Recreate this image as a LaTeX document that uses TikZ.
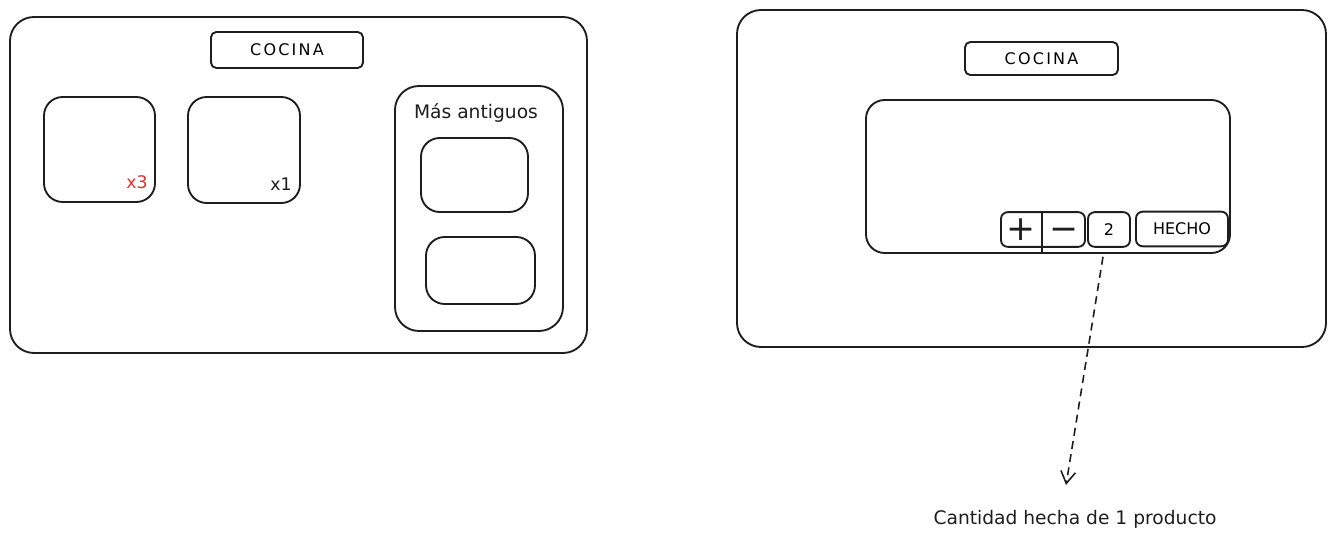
\documentclass[tikz,border=0pt]{standalone}
\usepackage{fontspec}
\setmainfont{DejaVu Sans}
\usepackage{tikz}
\usetikzlibrary{arrows.meta,positioning,calc}
\usepackage{xcolor}
\definecolor{Ink}{HTML}{1E1E1E}
\definecolor{Alert}{HTML}{E03131}
\tikzset{
 frame/.style={draw=Ink, line width=1.4pt, rounded corners=18pt, inner sep=0pt},
 card/.style={draw=Ink, line width=1.4pt, rounded corners=14pt, inner sep=0pt},
 tag/.style={draw=Ink, line width=1.4pt, rounded corners=4pt, inner sep=0pt, font=\fontsize{12}{14}\selectfont\addfontfeature{LetterSpace=14}},
 btn/.style={draw=Ink, line width=1.4pt, rounded corners=5pt, inner sep=0pt, minimum height=26pt, font=\fontsize{12}{14}\selectfont},
 label/.style={text=Ink, inner sep=1pt, font=\fontsize{14}{16}\selectfont},
 sign/.style={text=Ink, inner sep=0pt, font=\fontsize{26}{26}\selectfont},
 arrow/.style={-{Straight Barb[length=9pt,width=11pt]}, dash pattern=on 6pt off 4pt, draw=Ink, line width=1.2pt}
}
\begin{document}
\begin{tikzpicture}[x=0.75pt,y=-0.75pt]
\useasboundingbox (0,0) rectangle (1336,541);
% left screen
\node[frame, minimum width=432.75pt, minimum height=252pt] (leftscreen) at (298.5,185) {};
\node[tag, minimum width=114pt, minimum height=27pt] (cocinaL) at (287,50) {COCINA};
\node[card, minimum width=83.25pt, minimum height=78.75pt] (orderA) at (99.5,149.5) {};
\node[card, minimum width=84pt, minimum height=79.5pt] (orderB) at (244,150) {};
\node[label, text=Alert, font=\fontsize{13}{15}\selectfont] (qtyA) at (137,182) {x3};
\node[label, font=\fontsize{13}{15}\selectfont] (qtyB) at (281,184) {x1};
\node[frame, minimum width=126pt, minimum height=183.75pt] (oldest) at (479,208.5) {};
\node[label] (oldestTitle) at (476,113) {Más antiguos};
\node[card, minimum width=80.25pt, minimum height=55.5pt] (oldA) at (474.5,175) {};
\node[card, minimum width=81.75pt, minimum height=50.25pt] (oldB) at (480.5,270.5) {};
% right screen
\node[frame, minimum width=441.75pt, minimum height=252.75pt] (rightscreen) at (1031.5,178.5) {};
\node[tag, minimum width=114.75pt, minimum height=24.75pt] (cocinaR) at (1041.5,58.5) {COCINA};
\node[card, minimum width=273pt, minimum height=114.75pt] (detail) at (1048,176.5) {};
\node[btn, minimum width=63pt] (stepper) at (1043,229.5) {};
\node[sign] (plus) at (1021,230) {+};
\node[sign] (minus) at (1064,234) {−};
\coordinate (divtop) at (1042,212);
\coordinate (divbot) at (1042,253);
\draw[draw=Ink, line width=1.4pt] (divtop) -- (divbot);
\node[btn, minimum width=31.5pt] (two) at (1109,229.5) {2};
\node[btn, minimum width=69pt] (done) at (1182,229) {HECHO};
% note
\node[label] (note) at (1075,519) {Cantidad hecha de 1 producto};
\coordinate (tip) at (1066,485);
\draw[arrow] ([xshift=-4.5pt]two.south) ++(0,9) -- (tip);
\end{tikzpicture}
\end{document}
